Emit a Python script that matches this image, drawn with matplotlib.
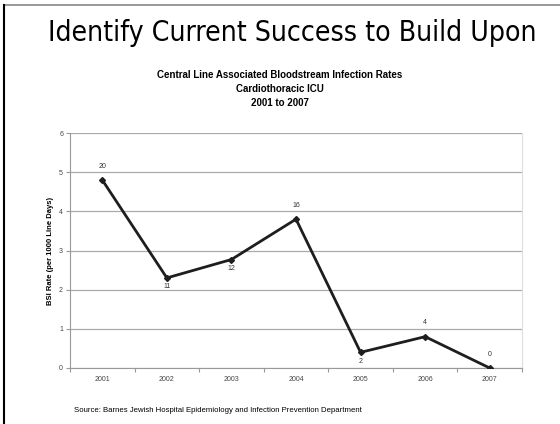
import matplotlib.pyplot as plt
from matplotlib.lines import Line2D

years = ["2001", "2002", "2003", "2004", "2005", "2006", "2007"]
bsi_rate = [4.8, 2.3, 2.77, 3.8, 0.4, 0.8, 0.0]
infections = [20, 11, 12, 16, 2, 4, 0]
label_above = [True, False, False, True, False, True, True]

fig = plt.figure(figsize=(5.6, 4.24), dpi=100)

# slide frame: grey top edge, black left edge
fig.add_artist(Line2D([4 / 560, 1], [1 - 4.5 / 424, 1 - 4.5 / 424], color="#888888", lw=1.2))
fig.add_artist(Line2D([4 / 560, 4 / 560], [0, 1 - 4.5 / 424], color="black", lw=1.5))

fig.text(292 / 560, 1 - 33 / 424, "Identify Current Success to Build Upon",
         ha="center", va="center", fontsize=20.3, family="DejaVu Sans", stretch="condensed")
fig.text(0.5, 1 - 75 / 424, "Central Line Associated Bloodstream Infection Rates",
         ha="center", va="center", fontsize=7, weight="bold", family="Liberation Sans")
fig.text(0.5, 1 - 89 / 424, "Cardiothoracic ICU",
         ha="center", va="center", fontsize=7, weight="bold", family="Liberation Sans")
fig.text(0.5, 1 - 103 / 424, "2001 to 2007",
         ha="center", va="center", fontsize=7, weight="bold", family="Liberation Sans")
fig.text(74 / 560, 1 - 411 / 424,
         "Source: Barnes Jewish Hospital Epidemiology and Infection Prevention Department",
         ha="left", va="center", fontsize=5.6, family="Liberation Sans")

ax = fig.add_axes([70 / 560, 1 - 368 / 424, 452 / 560, 235 / 424])
x = list(range(len(years)))
ax.plot(x, bsi_rate, color="#1e1e1e", lw=2, marker="D", ms=3, zorder=3)

for xi, yi, n, up in zip(x, bsi_rate, infections, label_above):
    ax.annotate(str(n), (xi, yi), xytext=(0, 10 if up else -6.5), textcoords="offset points",
                ha="center", va="center", fontsize=5, color="#333333",
                family="Liberation Sans")

ax.set_xlim(-0.5, 6.5)
ax.set_ylim(0, 6)
ax.set_yticks(range(7))
ax.set_xticks([i - 0.5 for i in range(8)])
ax.set_xticklabels([])
ax.set_xticks(x, minor=True)
ax.set_xticklabels(years, minor=True)
ax.tick_params(axis="x", which="minor", length=0, pad=6, labelsize=5, labelcolor="#444444")
ax.tick_params(axis="x", which="major", length=3, color="#999999", direction="out")
ax.tick_params(axis="y", length=3, color="#999999", labelsize=5, labelcolor="#444444", pad=2)
for lbl in ax.get_xticklabels(minor=True) + ax.get_yticklabels():
    lbl.set_family("Liberation Sans")

ax.grid(axis="y", color="#aaaaaa", lw=0.9)
ax.set_axisbelow(True)
for side in ["left", "bottom"]:
    ax.spines[side].set_color("#999999")
ax.spines["top"].set_visible(False)
ax.spines["right"].set_color("#dddddd")

ax.set_ylabel("BSI Rate (per 1000 Line Days)", fontsize=5.5, weight="bold",
              family="Liberation Sans", labelpad=4)

fig.savefig("out.png", dpi=100)
